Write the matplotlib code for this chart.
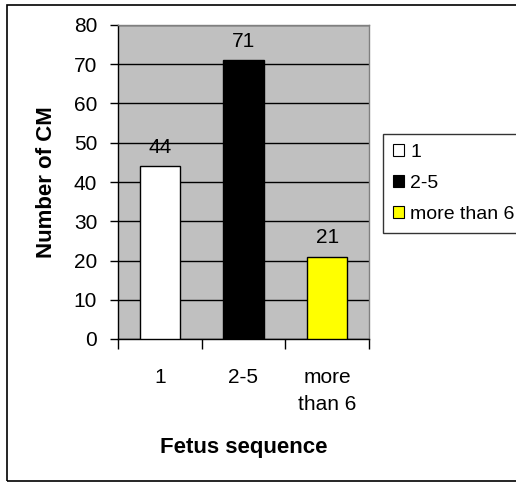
import matplotlib
matplotlib.use("Agg")
import matplotlib.pyplot as plt
from matplotlib.patches import Rectangle, Patch

plt.rcParams['font.family'] = ['Liberation Sans', 'DejaVu Sans']

categories = ['1', '2-5', 'more\nthan 6']
legend_labels = ['1', '2-5', 'more than 6']
values = [44, 71, 21]
colors = ['#FFFFFF', '#000000', '#FFFF00']

W, H = 516, 483
fig = plt.figure(figsize=(W / 100, H / 100), dpi=100)

# outer chart frame
fig.patches.append(Rectangle((7 / W, 1 - 481 / H), 1.0, (481 - 5) / H,
                             transform=fig.transFigure, fill=False,
                             edgecolor='black', linewidth=1.2))

ax = fig.add_axes([118 / W, 1 - 339 / H, (369 - 118) / W, (339 - 25) / H])
ax.set_facecolor('#C0C0C0')

x = list(range(len(values)))
ax.set_axisbelow(True)
ax.yaxis.grid(True, color='black', linewidth=1)
ax.bar(x, values, width=0.48, color=colors, edgecolor='black', linewidth=1, zorder=3)

for xi, v in zip(x, values):
    ax.annotate(str(v), (xi, v), xytext=(0, 7), textcoords='offset points',
                ha='center', va='bottom', fontsize=15)

ax.set_xlim(-0.5, 2.5)
ax.set_ylim(0, 80)
ax.set_yticks(range(0, 81, 10))
ax.tick_params(axis='y', labelsize=15, length=6, width=1, direction='out', pad=9)

# category labels centred, ticks between categories
ax.set_xticks([-0.5, 0.5, 1.5, 2.5])
ax.set_xticklabels([])
ax.tick_params(axis='x', length=7, width=1, direction='out')
ax.set_xticks(x, minor=True)
ax.set_xticklabels(categories, minor=True, fontsize=15, linespacing=1.5)
ax.tick_params(axis='x', which='minor', length=0, pad=21)

for s in ['top', 'right']:
    ax.spines[s].set_color('#808080')
    ax.spines[s].set_linewidth(1)
for s in ['left', 'bottom']:
    ax.spines[s].set_color('black')
    ax.spines[s].set_linewidth(1)

ax.set_ylabel('Number of CM', fontsize=16, fontweight='bold', labelpad=12)
ax.set_xlabel('Fetus sequence', fontsize=16, fontweight='bold', labelpad=17)

handles = [Patch(facecolor=c, edgecolor='black', linewidth=0.8) for c in colors]
leg = fig.legend(handles, legend_labels, loc='upper left',
                 bbox_to_anchor=(383 / W, 1 - 134 / H), fontsize=14,
                 frameon=True, fancybox=False, edgecolor='black',
                 handlelength=0.6, handleheight=0.6, handletextpad=0.3,
                 labelspacing=0.72, borderpad=0.5, borderaxespad=0)
leg.get_frame().set_linewidth(1)

fig.savefig('out.png', dpi=100)
